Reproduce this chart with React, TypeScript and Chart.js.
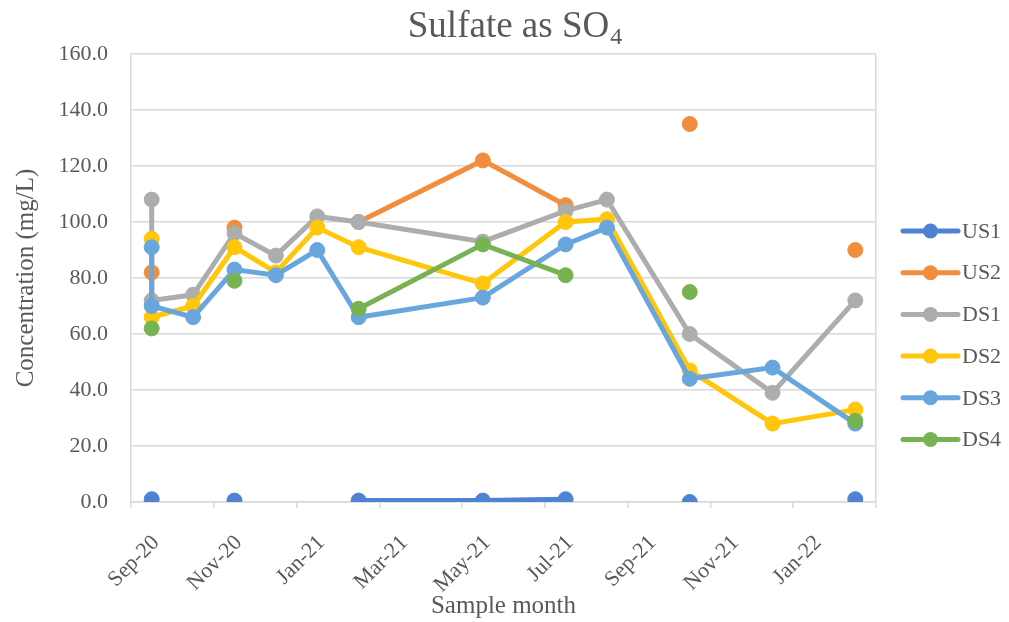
import { useEffect, useRef } from "react";
import { Chart, registerables } from "chart.js";

Chart.register(...registerables);

const FONT = "'Liberation Serif', 'Times New Roman', serif";
const TEXT_COLOR = "#595959";
const GRID_COLOR = "#D9D9D9";

// Sample months (two samples taken in Sep-20)
const sampleMonths = [
  "2020-09", "2020-09", "2020-10", "2020-11", "2020-12", "2021-01", "2021-02",
  "2021-05", "2021-07", "2021-08", "2021-10", "2021-12", "2022-02",
];

const xTickLabels = ["Sep-20", "Nov-20", "Jan-21", "Mar-21", "May-21", "Jul-21", "Sep-21", "Nov-21", "Jan-22"];

const seriesNames = ["US1", "US2", "DS1", "DS2", "DS3", "DS4"];
const seriesColors = ["#4F82D2", "#F18D3D", "#ADADAD", "#FFC60A", "#68A6DD", "#78B353"];

const us1 = [1, null, null, 0.5, null, null, 0.5, 0.5, 1, null, 0, null, 1];
const us2 = [82, null, null, 98, null, null, 100, 122, 106, null, 135, null, 90];
const ds1 = [108, 72, 74, 96, 88, 102, 100, 93, 104, 108, 60, 39, 72];
const ds2 = [94, 66, 70, 91, 82, 98, 91, 78, 100, 101, 47, 28, 33];
const ds3 = [91, 70, 66, 83, 81, 90, 66, 73, 92, 98, 44, 48, 28];
const ds4 = [62, null, null, 79, null, null, 69, 92, 81, null, 75, null, 29];

const seriesValues = [us1, us2, ds1, ds2, ds3, ds4];

const titleMain = "Sulfate as SO";
const titleSub = "4";
const yTitle = "Concentration (mg/L)";
const xTitle = "Sample month";

// months since Sep-2020, plotted mid-month
function monthPos(s: string) {
  const [y, m] = s.split("-").map(Number);
  return (y - 2020) * 12 + (m - 9) + 0.5;
}

const titlePlugin = {
  id: "subTitle",
  afterDraw(chart: any) {
    const ctx = chart.ctx;
    const area = chart.chartArea;
    ctx.save();
    ctx.fillStyle = TEXT_COLOR;
    ctx.textAlign = "left";
    ctx.textBaseline = "alphabetic";
    ctx.font = `37px ${FONT}`;
    const w1 = ctx.measureText(titleMain).width;
    ctx.font = `24px ${FONT}`;
    const w2 = ctx.measureText(titleSub).width;
    const cx = (area.left + area.right) / 2 + 11;
    const x0 = cx - (w1 + w2) / 2;
    ctx.font = `37px ${FONT}`;
    ctx.fillText(titleMain, x0, 37);
    ctx.font = `24px ${FONT}`;
    ctx.fillText(titleSub, x0 + w1 + 1, 44);
    ctx.restore();
  },
};

const legendPlugin = {
  id: "lineLegend",
  afterDraw(chart: any) {
    const ctx = chart.ctx;
    const area = chart.chartArea;
    const x0 = area.right + 27;
    const y0 = area.top + 177;
    const step = 41.7;
    ctx.save();
    chart.data.datasets.forEach((ds: any, i: number) => {
      const y = y0 + i * step;
      ctx.strokeStyle = ds.borderColor;
      ctx.lineWidth = 5;
      ctx.lineCap = "round";
      ctx.beginPath();
      ctx.moveTo(x0, y);
      ctx.lineTo(x0 + 55, y);
      ctx.stroke();
      ctx.fillStyle = ds.backgroundColor;
      ctx.beginPath();
      ctx.arc(x0 + 27.5, y, 7.5, 0, Math.PI * 2);
      ctx.fill();
      ctx.fillStyle = TEXT_COLOR;
      ctx.font = `22px ${FONT}`;
      ctx.textAlign = "left";
      ctx.textBaseline = "middle";
      ctx.fillText(ds.label, x0 + 59, y + 1);
    });
    ctx.restore();
  },
};

export default function App() {
  const ref = useRef<HTMLCanvasElement | null>(null);

  useEffect(() => {
    document.body.style.margin = "0";
    const xs = sampleMonths.map(monthPos);
    const datasets = seriesNames.map((name, i) => ({
      label: name,
      data: xs.map((x, j) => ({ x, y: seriesValues[i][j] })),
      borderColor: seriesColors[i],
      backgroundColor: seriesColors[i],
      pointBackgroundColor: seriesColors[i],
      pointBorderColor: seriesColors[i],
      pointRadius: 7.5,
      pointBorderWidth: 1,
      borderWidth: 5,
      showLine: true,
      spanGaps: false,
      tension: 0,
      order: seriesNames.length - i,
    }));

    const chart = new Chart(ref.current as HTMLCanvasElement, {
      type: "scatter",
      data: { datasets },
      plugins: [titlePlugin, legendPlugin],
      options: {
        animation: false,
        responsive: false,
        maintainAspectRatio: false,
        layout: { padding: { left: 0, right: 133, top: 54, bottom: 0 } },
        plugins: {
          legend: { display: false },
          title: { display: false },
          tooltip: { enabled: false },
        },
        scales: {
          x: {
            type: "linear",
            min: 0,
            max: 18,
            afterFit: (scale: any) => {
              scale.height = 120;
            },
            ticks: {
              stepSize: 2,
              autoSkip: false,
              minRotation: 45,
              maxRotation: 45,
              labelOffset: 25,
              padding: 22,
              color: TEXT_COLOR,
              font: { family: FONT, size: 22 },
              callback: (v: any) => {
                const idx = Math.round(Number(v) / 2);
                return xTickLabels[idx] ?? "";
              },
            },
            grid: {
              drawOnChartArea: true,
              color: (c: any) => (c.tick && c.tick.value === 18 ? GRID_COLOR : "rgba(0,0,0,0)"),
              tickColor: GRID_COLOR,
              tickLength: 6,
              lineWidth: 1.5,
            },
            border: { color: GRID_COLOR, width: 1.5 },
            title: {
              display: true,
              text: xTitle,
              color: TEXT_COLOR,
              font: { family: FONT, size: 25 },
              padding: { top: 0, bottom: 1 },
            },
          },
          y: {
            min: 0,
            max: 160,
            afterFit: (scale: any) => {
              scale.width = 131;
            },
            ticks: {
              stepSize: 20,
              padding: 23,
              color: TEXT_COLOR,
              font: { family: FONT, size: 22 },
              callback: (v: any) => Number(v).toFixed(1),
            },
            grid: {
              drawTicks: false,
              color: GRID_COLOR,
              lineWidth: 1.5,
            },
            border: { color: GRID_COLOR, width: 1.5 },
            title: {
              display: true,
              text: yTitle,
              color: TEXT_COLOR,
              font: { family: FONT, size: 25 },
              padding: { top: 11, bottom: 0 },
            },
          },
        },
      },
    });
    return () => chart.destroy();
  }, []);

  return (
    <div style={{ width: 1009, height: 622 }}>
      <canvas ref={ref} width={1009} height={622} style={{ display: "block" }} />
    </div>
  );
}
